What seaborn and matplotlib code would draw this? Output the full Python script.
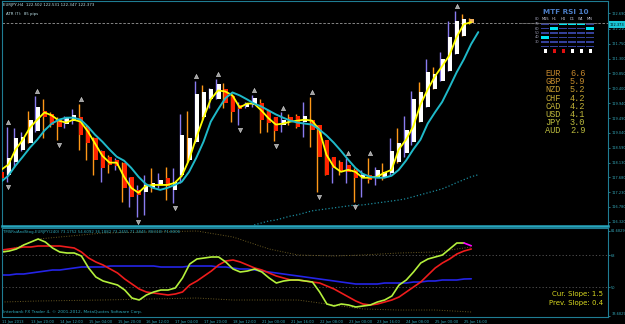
import numpy as np
import matplotlib
matplotlib.use("Agg")
import matplotlib.pyplot as plt
from matplotlib.patches import Rectangle
import seaborn as sns

sns.set_style("dark", {"axes.facecolor": "black", "figure.facecolor": "black"})
plt.rcParams['font.family'] = ['DejaVu Sans']

# ---------------- data ----------------
bar_open = [117.85,117.76,118.16,118.53,118.74,119.08,119.69,119.60,119.44,119.32,
            119.41,119.51,119.23,118.89,118.47,118.31,118.22,118.13,117.70,117.30,
            117.24,117.36,117.46,117.67,117.30,117.76,118.22,118.77,119.51,120.06,
            120.06,120.36,120.15,119.90,119.84,119.90,119.96,119.69,119.51,119.29,
            119.51,119.54,119.38,119.44,119.29,118.83,118.31,118.16,118.07,117.91,
            117.67,117.76,117.67,117.70,117.82,118.16,118.43,118.77,119.38,119.84,
            120.36,120.61,120.91,121.43,121.99,122.502]
bar_high = [117.97,119.23,119.20,119.05,119.69,120.15,120.06,119.66,119.51,119.54,
            119.75,119.93,119.29,118.92,118.53,118.37,118.28,118.16,117.70,117.46,
            117.76,117.97,117.82,118.01,117.97,119.60,119.69,120.61,120.49,120.42,
            120.67,120.55,120.21,119.99,119.99,120.18,120.06,119.75,119.51,119.66,
            119.60,119.60,119.99,120.12,119.29,118.83,118.31,118.22,118.28,117.97,
            117.91,118.28,118.01,118.13,118.89,119.20,119.54,120.30,120.58,121.28,
            121.04,121.50,122.45,122.75,122.66,122.531]
bar_low = [117.55,117.55,118.01,118.47,118.74,119.05,118.89,119.23,118.83,119.20,
           119.32,118.53,118.22,117.76,117.55,117.82,117.91,116.93,116.78,116.47,
           116.53,117.24,117.36,116.99,116.90,117.52,118.16,118.74,119.44,119.81,
           120.06,119.81,119.38,119.29,119.81,119.84,119.02,119.05,118.80,119.05,
           119.29,119.20,118.92,118.62,117.24,117.76,117.52,117.76,117.52,116.93,
           117.09,117.52,117.46,117.61,117.76,118.13,118.31,118.68,119.38,119.84,
           120.36,120.61,120.91,121.43,121.99,122.347]
bar_close = [117.67,118.28,118.89,118.92,119.44,119.84,119.51,119.29,119.23,119.48,
             119.57,118.98,118.74,118.22,117.97,118.07,118.04,117.36,117.09,117.15,
             117.46,117.52,117.61,117.42,117.55,118.98,118.89,120.21,120.27,120.36,
             120.52,119.96,119.66,119.75,119.96,120.09,119.44,119.35,119.08,119.44,
             119.38,119.23,119.54,119.14,118.31,117.76,117.97,117.85,117.85,117.67,
             117.76,117.61,117.91,117.85,118.47,118.74,119.14,120.06,120.27,120.88,
             120.82,121.28,121.96,122.45,122.51,122.373]
# wick colour class per bar (o = orange, p = purple)
wick_kind = ("opppopooop" "pooopopopp" "popoppopop" "poopppooop"
             "oopooopopo" "popopoppop" "opppoo")

fast_ma = [117.91,118.07,118.53,118.83,119.20,119.44,119.66,119.57,119.41,119.35,
           119.44,119.38,119.08,118.71,118.34,118.13,118.13,117.70,117.36,117.21,
           117.42,117.45,117.45,117.45,117.51,117.73,118.22,118.89,119.50,120.06,
           120.33,120.30,120.18,119.81,119.93,119.93,119.72,119.48,119.29,119.32,
           119.38,119.41,119.44,119.41,119.14,118.37,118.01,117.85,117.91,117.85,
           117.67,117.67,117.70,117.82,117.91,118.53,118.83,119.23,119.90,120.36,
           120.76,121.07,121.40,121.96,122.35,122.41]
slow_ma = [117.55,117.73,118.04,118.31,118.59,118.83,119.11,119.32,119.44,119.50,
           119.50,119.44,119.23,118.98,118.77,118.53,118.31,118.19,117.97,117.70,
           117.48,117.36,117.30,117.36,117.45,117.55,117.85,118.28,118.77,119.38,
           119.75,120.09,120.27,120.18,120.06,119.93,119.84,119.72,119.60,119.50,
           119.41,119.35,119.32,119.29,119.14,118.96,118.74,118.49,118.22,117.97,
           117.79,117.70,117.67,117.67,117.73,117.91,118.19,118.53,118.83,119.32,
           119.66,119.98,120.42,120.88,121.28,121.74,122.11]
long_ma_start = 35
long_ma = [116.23,116.29,116.35,116.38,116.44,116.50,116.54,116.60,116.66,116.69,
           116.72,116.75,116.78,116.81,116.84,116.84,116.87,116.90,116.93,116.96,
           116.99,117.03,117.09,117.15,117.21,117.27,117.33,117.42,117.52,117.61,
           117.70,117.76]
fractal_up = [1, 5, 11, 27, 30, 35, 39, 43, 48, 51, 63]
fractal_down = [1, 8, 19, 24, 33, 38, 44, 49]
current_price = 122.373

price_ticks = [116.320,116.780,117.230,117.680,118.130,118.590,119.040,119.490,
               119.940,120.400,120.850,121.300,121.750,122.210,122.690]

rsi_line = [69.69,70.25,71.38,73.63,75.31,77.00,75.31,71.94,69.69,69.13,
            69.13,67.44,60.69,55.63,53.38,52.25,51.13,48.31,43.81,42.69,
            45.50,47.19,48.31,48.31,49.44,55.06,62.94,65.75,66.31,66.88,
            66.88,64.06,60.13,58.44,59.00,60.13,58.44,55.06,52.25,53.38,
            53.94,53.94,53.38,52.81,47.19,40.44,39.31,40.44,39.88,38.75,
            39.31,39.88,41.56,42.69,44.94,51.13,53.94,58.44,63.50,65.75,
            66.88,68.00,71.38,74.75,74.75,73.18]
signal_line = [70.81,71.38,71.94,72.50,72.50,73.06,73.06,73.06,73.06,72.50,
               71.94,69.69,66.31,64.06,62.38,60.13,57.88,54.50,51.69,48.88,
               47.19,46.63,46.06,45.50,46.06,47.19,51.13,53.38,56.19,59.00,
               62.38,64.63,65.19,64.06,62.38,60.69,59.56,57.88,56.19,55.06,
               53.94,53.94,53.38,52.81,52.25,50.56,48.88,46.63,44.38,42.13,
               40.44,39.88,40.44,41.56,42.69,44.38,47.19,50.00,52.81,56.75,
               60.69,63.50,65.75,68.56,70.25,71.38]
base_line = [56.75,56.75,57.31,57.31,57.88,58.44,59.00,59.56,59.56,60.13,
             60.69,61.25,61.25,61.25,61.25,61.81,61.81,61.81,61.81,61.81,
             61.81,61.81,61.25,61.25,61.25,61.25,61.81,61.81,61.81,61.81,
             61.25,61.25,60.69,60.13,60.13,59.56,59.00,58.44,57.88,57.31,
             56.75,56.19,55.63,55.06,54.50,53.94,53.38,52.81,52.25,51.69,
             51.69,51.69,51.69,52.25,52.25,52.25,52.25,52.81,52.81,53.38,
             53.38,53.94,53.94,53.94,54.50,54.61]
env_bars = [0, 5, 14, 27, 32, 37, 41, 46, 50, 55, 60, 65]
env_upper = [69.13,77.00,80.38,81.50,78.13,71.38,68.00,67.44,68.00,69.13,69.69,72.50]
env_lower = [41.56,42.13,42.69,43.81,42.69,42.69,42.69,39.88,37.63,37.06,37.06,35.94]
ind_levels = [68, 50]
ind_tick_vals = [81.6829, 68, 50, 33.6829]
ind_tick_labels = ["81.6829", "68", "50", "33.6829"]

time_labels = ["11 Jan 2013", "13 Jan 20:00", "14 Jan 12:00", "15 Jan 04:00",
               "15 Jan 20:00", "16 Jan 12:00", "17 Jan 04:00", "17 Jan 20:00",
               "18 Jan 12:00", "21 Jan 00:00", "21 Jan 16:00", "22 Jan 08:00",
               "23 Jan 00:00", "23 Jan 16:00", "24 Jan 08:00", "25 Jan 00:00",
               "25 Jan 16:00"]

mtf_periods = ["M15", "H1", "H4", "D1", "W1", "MN"]
mtf_levels = ["80", "70", "60", "50", "40", "30"]
mtf_active_row = [3, 1, 0, 0, 0, 1]
mtf_signal_up = [True, False, False, True, True, True]

currencies = ["EUR", "GBP", "NZD", "CHF", "CAD", "USD", "JPY", "AUD"]
strength = [6.6, 5.9, 5.2, 4.2, 4.2, 4.1, 3.0, 2.9]

# ---------------- figure ----------------
W, H = 625, 324
fig = plt.figure(figsize=(W / 100, H / 100), dpi=100, facecolor="black")

def fx(px):
    return px / W

def fy(py):
    return 1 - py / H

FRAME = "#1f7d93"
LABEL = "#35a9bb"
TICKFS = 2.5

ax = fig.add_axes([fx(2), fy(226), fx(608) - fx(2), fy(1) - fy(226)])
ax2 = fig.add_axes([fx(2), fy(317), fx(608) - fx(2), fy(228) - fy(317)])
for a in (ax, ax2):
    a.set_facecolor("black")
    a.grid(False)
    for s in a.spines.values():
        s.set_color(FRAME)
        s.set_linewidth(0.8)
    a.set_xlim(0.125, 83.94)
ax.spines['bottom'].set_color("#27a6be")
ax.spines['bottom'].set_linewidth(1.8)

n = len(bar_close)
idx = np.arange(n)
o = np.array(bar_open); h = np.array(bar_high)
l = np.array(bar_low); c = np.array(bar_close)
bull = c >= o
wick_cols = ['#ff9818' if k == 'o' else '#8a7cf0' for k in wick_kind[:n]]

# candles
ax.vlines(idx - 0.25, l, h, colors=wick_cols, lw=1.0, zorder=2)
body_bot = np.minimum(o, c)
body_h = np.maximum(np.abs(c - o), 0.03)
body_col = ['#ffffff' if b else '#ff2400' for b in bull]
body_col[-1] = '#f0b060'
ax.bar(idx + 0.08, body_h, bottom=body_bot, width=0.55, color=body_col,
       linewidth=0, zorder=3)

# moving averages
sns.lineplot(x=idx, y=fast_ma, ax=ax, color="#ffff00", lw=1.3, zorder=4,
             legend=False, errorbar=None)
sns.lineplot(x=np.arange(len(slow_ma)), y=slow_ma, ax=ax, color="#1fb9c9",
             lw=1.4, zorder=4, legend=False, errorbar=None)
sns.lineplot(x=np.arange(long_ma_start, long_ma_start + len(long_ma)), y=long_ma,
             ax=ax, color="#1b8a9c", lw=0.9, linestyle=":", legend=False,
             errorbar=None)

# fractals
fu = np.array(fractal_up); fd = np.array(fractal_down)
ax.scatter(fu, h[fu] + 0.15, marker="^", s=9, facecolor="#9a9a9a",
           edgecolor="#e0e0e0", linewidths=0.4, zorder=5)
ax.scatter(fd, l[fd] - 0.15, marker="v", s=9, facecolor="#9a9a9a",
           edgecolor="#e0e0e0", linewidths=0.4, zorder=5)

# current price line
ax.axhline(current_price, color="#9a9a9a", lw=0.6, ls=(0, (3, 2)), zorder=1)

ax.set_ylim(116.198, 123.058)
ax.yaxis.tick_right()
ax.set_yticks(price_ticks)
ax.set_yticklabels([f"{v:.3f}" for v in price_ticks])
ax.tick_params(axis='y', colors=LABEL, labelsize=TICKFS, length=1.5, width=0.5, pad=0.8)
ax.tick_params(axis='x', bottom=False, labelbottom=False)
ax.set_xlabel(""); ax.set_ylabel("")
fig.text(fx(610), fy(24.5), f"{current_price:.3f}", fontsize=TICKFS, color="black",
         va="center", ha="left",
         bbox=dict(boxstyle="square,pad=0.3", fc="#19c6d6", ec="none"))

# header texts
fig.text(fx(3), fy(5), "EURJPY,H4  122.502 122.531 122.347 122.373",
         fontsize=2.8, color="#bfe3ea", va="center")
fig.text(fx(6), fy(14), "ATR (7):  85 pips", fontsize=2.8, color="#bfe3ea",
         va="center")

# MTF RSI panel
fig.text(fx(566), fy(12), "MTF RSI 10", fontsize=5.2, color="#4b7cc4",
         fontweight="bold", ha="center", va="center")
col_x = [545, 554, 563, 572, 581, 590]
row_y = [24, 28.5, 33, 37.5, 42, 46.5]
fig.add_artist(plt.Line2D([fx(519), fx(597)], [fy(22.5), fy(22.5)],
                          transform=fig.transFigure, color="#6a6a6a", lw=0.5))
for j, per in enumerate(mtf_periods):
    fig.text(fx(col_x[j]), fy(18.5), per, fontsize=2.6, color="#d0d0e0",
             ha="center", va="center")
    for r in range(len(row_y)):
        active = (r == mtf_active_row[j])
        hh = 2.6 if active else 1.6
        fig.add_artist(Rectangle((fx(col_x[j] - 4), fy(row_y[r] + hh / 2)),
                                 8 / W, hh / H, transform=fig.transFigure,
                                 color="#00e4f2" if active else "#34409a", lw=0))
    fig.add_artist(Rectangle((fx(col_x[j] - 1.5), fy(52.5)), 3 / W, 3 / H,
                             transform=fig.transFigure, lw=0,
                             color="#ffffff" if mtf_signal_up[j] else "#e01010"))
for r, lv in enumerate(mtf_levels):
    fig.text(fx(537), fy(row_y[r] - 4.5), lv, fontsize=2.6, color="#9a9ab0",
             ha="center", va="center")

# currency strength list
cur_cols = ["#c4862c", "#c48a2c", "#c49a30", "#c4aa34", "#c2b238",
            "#c0b83c", "#bcbc3e", "#bcbc3e"]
for k, (cur, val) in enumerate(zip(currencies, strength)):
    yy = 73.5 + k * 8.2
    fig.text(fx(545), fy(yy), cur, fontsize=6.2, color=cur_cols[k],
             family="Liberation Mono", va="center")
    fig.text(fx(570), fy(yy), f"{val:.1f}", fontsize=6.2, color=cur_cols[k],
             family="Liberation Mono", va="center")

# ---------------- indicator panel ----------------
for lv in ind_levels:
    ax2.axhline(lv, color="#5a5a5a", lw=0.6, ls=(0, (1.5, 2.5)))
sns.lineplot(x=env_bars, y=env_upper, ax=ax2, color="#6a5a22", lw=0.7,
             linestyle=":", legend=False, errorbar=None)
sns.lineplot(x=env_bars, y=env_lower, ax=ax2, color="#6a5a22", lw=0.7,
             linestyle=":", legend=False, errorbar=None)
sns.lineplot(x=idx, y=base_line, ax=ax2, color="#2424e6", lw=1.2, legend=False,
             errorbar=None)
sns.lineplot(x=idx, y=signal_line, ax=ax2, color="#ee1c1c", lw=1.2, legend=False,
             errorbar=None)
sns.lineplot(x=idx[:-1], y=rsi_line[:-1], ax=ax2, color="#b4f03c", lw=1.2,
             legend=False, errorbar=None)
sns.lineplot(x=idx[-2:], y=rsi_line[-2:], ax=ax2, color="#ff00ff", lw=1.2,
             legend=False, errorbar=None)

ax2.set_ylim(33.13, 83.19)
ax2.yaxis.tick_right()
ax2.set_yticks(ind_tick_vals)
ax2.set_yticklabels(ind_tick_labels)
ax2.tick_params(axis='y', colors=LABEL, labelsize=TICKFS, length=1.5, width=0.5, pad=0.8)
ylabs = ax2.get_yticklabels()
ylabs[-1].set_verticalalignment("bottom")
ax2.set_xticks(np.arange(0, 4 * len(time_labels), 4))
ax2.set_xticklabels(time_labels)
ax2.tick_params(axis='x', colors=LABEL, labelsize=2.6, length=1.5, width=0.5, pad=0.8)
for t in ax2.get_xticklabels():
    t.set_horizontalalignment("left")
ax2.set_xlabel(""); ax2.set_ylabel("")

fig.text(fx(3), fy(232), "TMSRsiAndStog-EURJPY(240) 73.1752 54.6092 36.1882 "
         "73.2455 71.3845  RSI(10) 71.8006", fontsize=2.8, color="#2eaabb",
         va="center")
fig.text(fx(3), fy(312), "Interbank FX Trader 4, \u00a9 2001-2012, MetaQuotes Software Corp.",
         fontsize=3.1, color="#2eaabb", va="center")
fig.text(fx(603), fy(294), "Cur. Slope: 1.5", fontsize=5.0, color="#d8d820",
         ha="right", va="center")
fig.text(fx(603), fy(303.5), "Prev. Slope: 0.4", fontsize=5.0, color="#d8d820",
         ha="right", va="center")

fig.savefig("out.png", dpi=100, facecolor="black")
